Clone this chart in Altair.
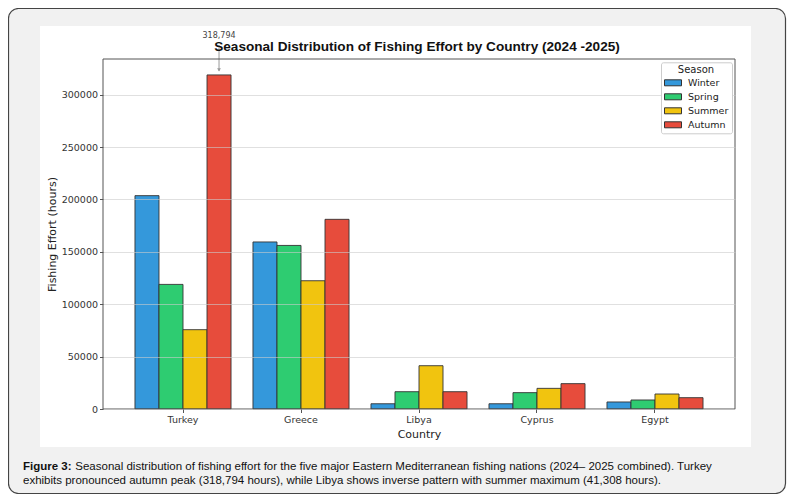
import altair as alt
import pandas as pd

countries = ["Turkey", "Greece", "Libya", "Cyprus", "Egypt"]
seasons = ["Winter", "Spring", "Summer", "Autumn"]
winter = [203600, 159400, 5000, 5000, 6700]
spring = [118900, 156100, 16500, 15600, 8600]
summer = [75700, 122400, 41308, 19700, 14300]
autumn = [318794, 181000, 16500, 24200, 10800]
colors = ["#3498db", "#2ecc71", "#f1c40f", "#e74c3c"]

title_text = "Seasonal Distribution of Fishing Effort by Country (2024 -2025)"
cap_bold = "Figure 3:"
cap_line1 = ("Seasonal distribution of fishing effort for the five major Eastern "
             "Mediterranean fishing nations (2024\u2013 2025 combined). Turkey")
cap_line2 = ("exhibits pronounced autumn peak (318,794 hours), while Libya shows "
             "inverse pattern with summer maximum (41,308 hours).")

rows = []
for s, vals in zip(seasons, [winter, spring, summer, autumn]):
    for c, v in zip(countries, vals):
        rows.append({"Country": c, "Season": s, "Effort": v})
df = pd.DataFrame(rows)
one = pd.DataFrame({"k": [0]})

W, H = 632, 350
AX = "DejaVu Sans"

frame = alt.Chart(one).mark_rect(
    fill="#f1f1f1", stroke="#444", strokeWidth=1.2, cornerRadius=10
).encode(x=alt.value(-94.5), x2=alt.value(682.5), y=alt.value(-50.5), y2=alt.value(434.5))

panel = alt.Chart(one).mark_rect(fill="white").encode(
    x=alt.value(-63), x2=alt.value(648), y=alt.value(-33), y2=alt.value(388))

xenc = alt.X("Country:N", sort=countries, title="Country",
             scale=alt.Scale(paddingInner=0.186, paddingOuter=0.271),
             axis=alt.Axis(labelAngle=0, zindex=1))
xoff = alt.XOffset("Season:N", sort=seasons, scale=alt.Scale(paddingInner=0, paddingOuter=0))

bars = alt.Chart(df).mark_bar(stroke="#333", strokeWidth=0.9).encode(
    x=xenc,
    xOffset=xoff,
    y=alt.Y("Effort:Q", title="Fishing Effort (hours)",
            scale=alt.Scale(domain=[0, 334000], nice=False, zero=True),
            axis=alt.Axis(values=[0, 50000, 100000, 150000, 200000, 250000, 300000],
                          format="d", grid=True, zindex=1)),
    color=alt.Color("Season:N", sort=seasons,
                    scale=alt.Scale(domain=seasons, range=colors),
                    legend=alt.Legend(title="Season", orient="none", legendX=558, legendY=3.3,
                                      zindex=1)),
)

peak = df[(df.Country == "Turkey") & (df.Season == "Autumn")]

arrow = alt.Chart(peak).mark_rule(color="#999", strokeWidth=1, yOffset=-4, y2Offset=-30).encode(
    x=alt.X("Country:N", sort=countries), xOffset=alt.XOffset("Season:N", sort=seasons),
    y="Effort:Q", y2="Effort:Q")
head = alt.Chart(peak).mark_point(shape="triangle-down", filled=True, color="#999", size=14,
                                  yOffset=-5, opacity=1).encode(
    x=alt.X("Country:N", sort=countries), xOffset=alt.XOffset("Season:N", sort=seasons),
    y="Effort:Q")
ann = alt.Chart(peak).mark_text(font=AX, fontSize=8, color="#444", baseline="alphabetic",
                                dy=-36.5).encode(
    x=alt.X("Country:N", sort=countries), xOffset=alt.XOffset("Season:N", sort=seasons),
    y="Effort:Q", text=alt.Text("Effort:Q", format=","))

border = alt.Chart(one).mark_rect(fillOpacity=0, stroke="#555", strokeWidth=1).encode(
    x=alt.value(0), x2=alt.value(W), y=alt.value(0), y2=alt.value(H))

title = alt.Chart(one).mark_text(font="Liberation Sans", fontSize=13.6, fontWeight="bold",
                                 color="#111", baseline="alphabetic", align="center").encode(
    x=alt.value(314), y=alt.value(-8), text=alt.value(title_text))

capA = alt.Chart(one).mark_text(font="Liberation Sans", fontSize=11.5, fontWeight="bold",
                                color="#111", baseline="alphabetic", align="left").encode(
    x=alt.value(-80), y=alt.value(411), text=alt.value(cap_bold))
capB = alt.Chart(one).mark_text(font="Liberation Sans", fontSize=11.5,
                                color="#111", baseline="alphabetic", align="left").encode(
    x=alt.value(-27.7), y=alt.value(411), text=alt.value(cap_line1))
capC = alt.Chart(one).mark_text(font="Liberation Sans", fontSize=11.5,
                                color="#111", baseline="alphabetic", align="left").encode(
    x=alt.value(-80), y=alt.value(425), text=alt.value(cap_line2))

chart = alt.layer(frame, panel, bars, arrow, head, ann, border, title, capA, capB, capC).properties(
    width=W, height=H,
    autosize=alt.AutoSizeParams(type="none"),
    padding={"left": 95, "top": 51, "right": 59, "bottom": 85},
).configure_view(stroke=None).configure_axis(
    domain=False, tickColor="#555", tickSize=3.5, labelFont=AX, labelFontSize=9.5,
    labelColor="#333", titleFont=AX, titleFontSize=11, titleColor="#222",
    titleFontWeight="normal", gridColor="#cccccc", gridOpacity=0.6, labelPadding=2,
).configure_axisX(grid=False, titlePadding=4).configure_axisY(titlePadding=4).configure_legend(
    fillColor="white", strokeColor="#cccccc", padding=3, cornerRadius=2,
    titleFont=AX, titleFontSize=10, titleFontWeight="normal", titleColor="#222",
    titleAnchor="middle", titlePadding=2, labelFont=AX, labelFontSize=9.5, labelColor="#222",
    labelOffset=13,
    symbolType="M-1,-0.6L2.4,-0.6L2.4,0.6L-1,0.6Z", symbolSize=100,
    symbolStrokeColor="#333", symbolStrokeWidth=1, symbolOpacity=1, rowPadding=3,
)

chart.save("out.html", embed_options={"renderer": "svg", "actions": False})
